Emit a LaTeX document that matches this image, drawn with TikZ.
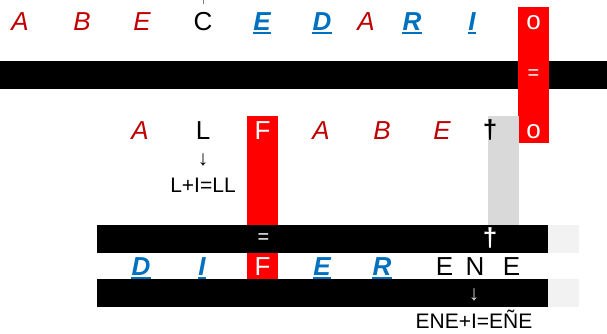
\documentclass[tikz,border=0pt]{standalone}
\usepackage{fontspec}
\setmainfont{Liberation Sans}
\definecolor{dred}{HTML}{C00000}
\definecolor{lblue}{HTML}{0070C0}
\definecolor{bred}{HTML}{FF0000}
\definecolor{gcol}{HTML}{D9D9D9}
\definecolor{lgcol}{HTML}{F2F2F2}
\tikzset{
  big/.style={font=\fontsize{26}{30}\selectfont, inner sep=0pt, anchor=base},
  redlet/.style={big, text=dred, font=\fontsize{26}{30}\selectfont\itshape},
  bluelet/.style={big, text=lblue, font=\fontsize{26}{30}\selectfont\bfseries\itshape},
  blacklet/.style={big, text=black},
  whitelet/.style={big, text=white},
  daglet/.style={big, font=\fontsize{26}{30}\selectfont\bfseries},
  small/.style={font=\fontsize{21}{24}\selectfont, inner sep=0pt, anchor=base},
  eqsign/.style={font=\fontsize{20}{24}\selectfont, inner sep=0pt, anchor=center, text=white},
  uline/.style={draw=lblue, line width=2pt},
  band/.style={fill=black},
}
\begin{document}
\begin{tikzpicture}[x=1pt,y=1pt]
\useasboundingbox (0,0) rectangle (607,-333);
% bands and columns
\fill[band] (0,-61) rectangle (607,-89);
\fill[bred] (518,-7) rectangle (549,-143);
\fill[bred] (247,-116) rectangle (278,-280);
\fill[gcol] (488,-116) rectangle (519,-225);
\fill[band] (97,-225) rectangle (548,-253);
\fill[lgcol] (548,-225) rectangle (579,-253);
\fill[band] (97,-279) rectangle (548,-307);
\fill[lgcol] (548,-279) rectangle (579,-307);
\draw[gray, line width=0.8pt] (203,0) -- (203,-4);
% row 1
\node[redlet] (r1a) at (20,-30) {A};
\node[redlet] (r1b) at (82,-30) {B};
\node[redlet] (r1e) at (142,-30) {E};
\node[blacklet] (r1c) at (203,-30) {C};
\node[bluelet] (r1e2) at (262,-30) {E};
\node[bluelet] (r1d) at (322,-30) {D};
\node[redlet] (r1a2) at (366,-30) {A};
\node[bluelet] (r1r) at (412,-30) {R};
\node[bluelet] (r1i) at (472,-30) {I};
\node[whitelet] (r1o) at (533.5,-29) {o};
\node[eqsign] (eq1) at (533.5,-75) {=};
\foreach \n in {r1e2,r1d,r1r,r1i}{
  \draw[uline] ([yshift=-3pt]\n.base west) -- ([yshift=-3pt]\n.base east);
}
% row 2
\node[redlet] (r2a) at (140,-139) {A};
\node[blacklet] (r2l) at (203,-139) {L};
\node[whitelet] (r2f) at (262.5,-139) {F};
\node[redlet] (r2a2) at (321,-139) {A};
\node[redlet] (r2b) at (382,-139) {B};
\node[redlet] (r2e) at (442,-139) {E};
\node[daglet, text=black] (r2d) at (490,-138) {†};
\node[whitelet] (r2o) at (533.5,-138) {o};
\node[font=\fontsize{21}{24}\selectfont, inner sep=0pt] (ar1) at (203,-160) {↓};
\node[small] (ll) at (203,-192) {L+I=LL};
% band 2 symbols
\node[eqsign] (eq2) at (263.5,-239) {=};
\node[daglet, text=white] (dag2) at (490,-246) {†};
% row 3
\node[bluelet] (r3d) at (141,-275) {D};
\node[bluelet] (r3i) at (202,-275) {I};
\node[whitelet] (r3f) at (262.5,-275) {F};
\node[bluelet] (r3e) at (322,-275) {E};
\node[bluelet] (r3r) at (382,-275) {R};
\node[blacklet] (r3e2) at (444.5,-275) {E};
\node[blacklet] (r3n) at (475,-275) {N};
\node[blacklet] (r3e3) at (511.5,-275) {E};
\foreach \n in {r3d,r3i,r3e,r3r}{
  \draw[uline] ([yshift=-3pt]\n.base west) -- ([yshift=-3pt]\n.base east);
}
\node[font=\fontsize{21}{24}\selectfont, inner sep=0pt, text=gcol] (ar2) at (474,-294.5) {↓};
\node[small] (ene) at (474,-328) {ENE+I=EÑE};
\end{tikzpicture}
\end{document}
